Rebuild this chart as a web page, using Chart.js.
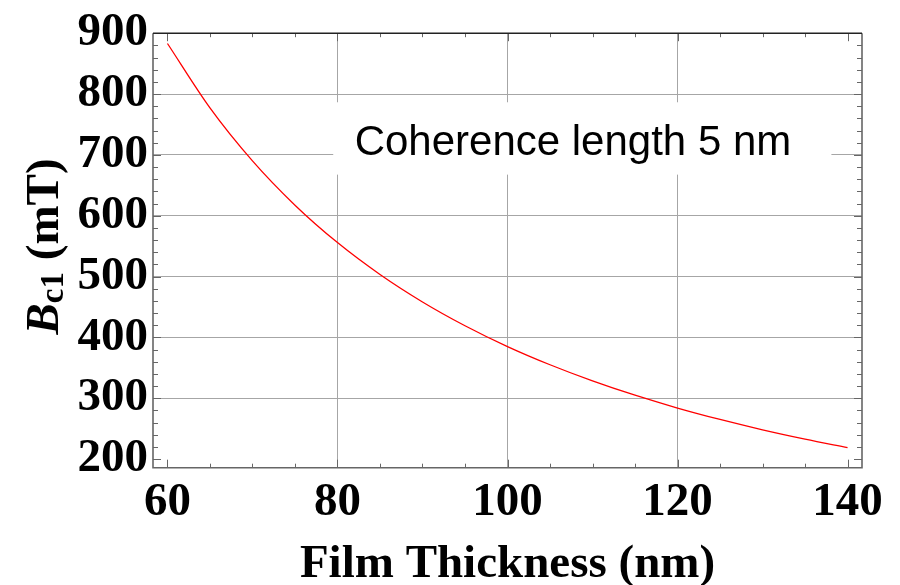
<!DOCTYPE html>
<html>
<head>
<meta charset="utf-8">
<script src="https://cdn.jsdelivr.net/npm/chart.js@4.4.1/dist/chart.umd.min.js"></script>
<style>
  html, body { margin: 0; padding: 0; background: #fff; }
  #wrap { width: 900px; height: 585px; }
</style>
</head>
<body>
<div id="wrap"><canvas id="myChart" width="900" height="585"></canvas></div>
<script>
// Lower critical field of a thin film vs. thickness (coherence length 5 nm)
const thickness = [60, 65, 70, 75, 80, 85, 90, 95, 100, 105, 110, 115, 120, 125, 130, 135, 140];
const bc1 = [883.1, 777.3, 690.2, 617.4, 555.9, 503.5, 458.4, 419.3, 385.1, 355.2, 328.7, 305.1, 284.1, 265.3, 248.3, 233.0, 219.1];

const xTicks = [60, 80, 100, 120, 140];
const yTicks = [200, 300, 400, 500, 600, 700, 800, 900];
const xMinorStep = 5;
const yMinorStep = 20;

const noteText = 'Coherence length 5 nm';
const xTitle = 'Film Thickness (nm)';

const serifBold = { family: '"Liberation Serif", "Times New Roman", serif', weight: 'bold', size: 47 };
const gridColor = '#a6a6a6';
const tickColor = '#666';

// white box + label, placed in data units
const noteBox = { x0: 79.5, x1: 138.1, y0: 667.6, y1: 786.5 };
const noteAt = { x: 107.7, y: 700.5 };

// grid only on the inner major ticks
function innerGrid(ctx) {
    const t = ctx.tick;
    if (!t) return 'transparent';
    const ticks = ctx.scale.ticks;
    if (t.value === ticks[0].value || t.value === ticks[ticks.length - 1].value) return 'transparent';
    return gridColor;
}

const notePlugin = {
    id: 'note',
    beforeDatasetsDraw(chart) {
        const { ctx, scales: { x, y } } = chart;
        ctx.save();
        ctx.fillStyle = '#fff';
        const px0 = x.getPixelForValue(noteBox.x0), px1 = x.getPixelForValue(noteBox.x1);
        const py0 = y.getPixelForValue(noteBox.y1), py1 = y.getPixelForValue(noteBox.y0);
        ctx.fillRect(px0, py0, px1 - px0, py1 - py0);
        ctx.fillStyle = '#000';
        ctx.font = '42px "Liberation Sans", Arial, sans-serif';
        ctx.textAlign = 'center';
        ctx.textBaseline = 'alphabetic';
        ctx.fillText(noteText, x.getPixelForValue(noteAt.x), y.getPixelForValue(noteAt.y));
        ctx.restore();
    }
};

// frame with inward ticks on all four sides
const framePlugin = {
    id: 'frame',
    afterDatasetsDraw(chart) {
        const { ctx, chartArea: a, scales: { x, y } } = chart;
        ctx.save();
        ctx.lineWidth = 1;
        ctx.strokeStyle = tickColor;
        ctx.beginPath();
        for (let v = xTicks[0]; v <= xTicks[xTicks.length - 1] + 1e-9; v += xMinorStep) {
            const len = xTicks.includes(v) ? 8 : 4;
            const px = Math.round(x.getPixelForValue(v)) + 0.5;
            ctx.moveTo(px, a.bottom); ctx.lineTo(px, a.bottom - len);
            ctx.moveTo(px, a.top); ctx.lineTo(px, a.top + len);
        }
        for (let v = yTicks[0]; v <= yTicks[yTicks.length - 1] + 1e-9; v += yMinorStep) {
            const len = yTicks.includes(v) ? 8 : 5;
            const py = Math.round(y.getPixelForValue(v)) + 0.5;
            ctx.moveTo(a.left, py); ctx.lineTo(a.left + len, py);
            ctx.moveTo(a.right, py); ctx.lineTo(a.right - len, py);
        }
        ctx.stroke();

        ctx.lineWidth = 1.6;
        ctx.strokeStyle = '#666';
        ctx.beginPath();
        ctx.moveTo(a.left, a.top); ctx.lineTo(a.left, a.bottom); ctx.lineTo(a.right, a.bottom); ctx.lineTo(a.right, a.top);
        ctx.stroke();
        ctx.strokeStyle = '#222';
        ctx.beginPath();
        ctx.moveTo(a.left, a.top); ctx.lineTo(a.right, a.top);
        ctx.stroke();
        ctx.restore();
    }
};

// y title: italic B with subscript c1, then (mT)
const yTitlePlugin = {
    id: 'yTitle',
    afterDraw(chart) {
        const { ctx, chartArea: a } = chart;
        const fam = '"Liberation Serif", "Times New Roman", serif';
        ctx.save();
        ctx.translate(58, (a.top + a.bottom) / 2 - 4);
        ctx.rotate(-Math.PI / 2);
        ctx.fillStyle = '#000';
        ctx.textBaseline = 'alphabetic';
        ctx.textAlign = 'left';
        ctx.font = 'italic bold 47px ' + fam;
        const wB = ctx.measureText('B').width;
        ctx.font = 'bold 33px ' + fam;
        const wSub = ctx.measureText('c1').width;
        ctx.font = 'bold 47px ' + fam;
        const wRest = ctx.measureText(' (mT)').width;
        let pos = -(wB + wSub + wRest) / 2;
        ctx.font = 'italic bold 47px ' + fam;
        ctx.fillText('B', pos, 0);
        pos += wB;
        ctx.font = 'bold 33px ' + fam;
        ctx.fillText('c1', pos, 5);
        pos += wSub;
        ctx.font = 'bold 47px ' + fam;
        ctx.fillText(' (mT)', pos, 0);
        ctx.restore();
    }
};

const ctx = document.getElementById('myChart');
const myChart = new Chart(ctx, {
    type: 'line',
    data: {
        datasets: [{
            data: thickness.map((t, i) => ({ x: t, y: bc1[i] })),
            borderColor: '#ff0000',
            borderWidth: 1.3,
            pointRadius: 0,
            cubicInterpolationMode: 'monotone',
            fill: false
        }]
    },
    options: {
        responsive: false,
        animation: false,
        devicePixelRatio: 1,
        layout: { padding: { left: 0, top: 30, right: 38, bottom: 0 } },
        scales: {
            x: {
                type: 'linear',
                min: 58.3,
                max: 141.7,
                afterBuildTicks: s => { s.ticks = xTicks.map(v => ({ value: v })); },
                afterFit: s => { s.height = 117.3; },
                ticks: { font: serifBold, color: '#000', padding: 7, maxRotation: 0, autoSkip: false },
                grid: { drawTicks: false, color: innerGrid, lineWidth: 1 },
                border: { display: false },
                title: {
                    display: true,
                    text: xTitle,
                    color: '#000',
                    font: { ...serifBold, lineHeight: 0.85 },
                    padding: 0
                }
            },
            y: {
                min: 186,
                max: 900,
                afterBuildTicks: s => { s.ticks = yTicks.map(v => ({ value: v })); },
                afterFit: s => { s.width = 153; },
                ticks: { font: serifBold, color: '#000', padding: 5, autoSkip: false },
                grid: { drawTicks: false, color: innerGrid, lineWidth: 1 },
                border: { display: false }
            }
        },
        plugins: {
            legend: { display: false },
            tooltip: { enabled: false }
        }
    },
    plugins: [notePlugin, framePlugin, yTitlePlugin]
});
</script>
</body>
</html>
